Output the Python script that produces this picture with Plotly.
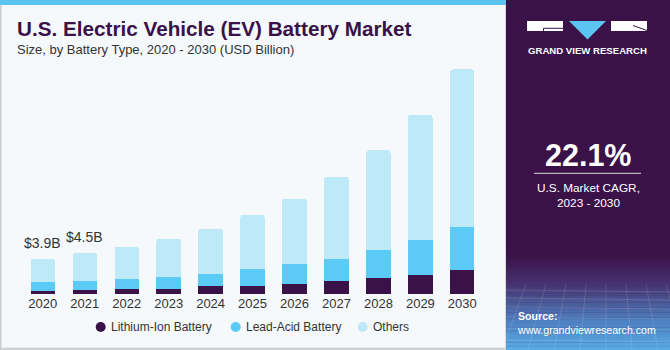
import plotly.graph_objects as go

W, H = 670, 350

# ---------------- data ----------------
years = [str(y) for y in range(2020, 2031)]
lithium_ion = [0.33, 0.44, 0.55, 0.59, 0.85, 0.92, 1.10, 1.43, 1.76, 2.13, 2.64]
lead_acid = [0.99, 1.02, 1.07, 1.28, 1.35, 1.79, 2.20, 2.46, 3.08, 3.85, 4.73]
others = [2.58, 3.04, 3.58, 4.23, 5.00, 5.99, 7.20, 9.01, 10.96, 13.72, 17.33]
series_names = ["Lithium-Ion Battery", "Lead-Acid Battery", "Others"]
label_years = ["2020", "2021"]
label_texts = ["$3.9B", "$4.5B"]

title_text = "U.S. Electric Vehicle (EV) Battery Market"
subtitle_text = "Size, by Battery Type, 2020 - 2030 (USD Billion)"
cagr_value = "22.1%"
cagr_lines = "U.S. Market CAGR,<br>2023 - 2030"

# ---------------- style ----------------
DARK = "#3A1248"
MID = "#5BCBF5"
LIGHT = "#BDE9F9"
BG = "#F5F9FC"
TXT = "#333333"
FONT = "Liberation Sans"


def px(x):
    return x / W


def py(y):
    return 1 - y / H


fig = go.Figure()
for name, vals, col in zip(series_names, [lithium_ion, lead_acid, others], [DARK, MID, LIGHT]):
    fig.add_trace(go.Bar(x=years, y=vals, name=name, marker=dict(color=col, line=dict(width=0)),
                         showlegend=False, hoverinfo="x+y+name"))

totals = [a + b + c for a, b, c in zip(lithium_ion, lead_acid, others)]

shapes = []
annotations = []

# left framed area
shapes.append(dict(type="rect", xref="paper", yref="paper", x0=px(0), x1=px(506), y0=py(350), y1=py(0),
                   fillcolor=BG, line=dict(width=0), layer="below"))
shapes.append(dict(type="line", xref="paper", yref="paper", x0=px(0.8), x1=px(0.8), y0=py(350), y1=py(4),
                   line=dict(color="#C9CDD1", width=1.6)))
shapes.append(dict(type="line", xref="paper", yref="paper", x0=px(0), x1=px(506), y0=py(348.8), y1=py(348.8),
                   line=dict(color="#C9CDD1", width=2)))
shapes.append(dict(type="line", xref="paper", yref="paper", x0=px(505.5), x1=px(505.5), y0=py(350), y1=py(5),
                   line=dict(color="#D6DADE", width=1)))
# top strip
shapes.append(dict(type="rect", xref="paper", yref="paper", x0=px(0), x1=px(506), y0=py(5), y1=py(0),
                   fillcolor="#5BC5F2", line=dict(width=0)))

# right panel
shapes.append(dict(type="rect", xref="paper", yref="paper", x0=px(506), x1=px(670), y0=py(350), y1=py(0),
                   fillcolor=DARK, line=dict(width=0), layer="below"))


def lerp(c1, c2, t):
    a = [int(c1[i:i + 2], 16) for i in (1, 3, 5)]
    b = [int(c2[i:i + 2], 16) for i in (1, 3, 5)]
    return "#" + "".join("%02x" % round(a[k] + (b[k] - a[k]) * t) for k in range(3))


# gradient at panel bottom
stops = [(255, DARK), (282, "#46306E"), (300, "#4A5592"), (320, "#4E7DBE"), (350, "#58ADE6")]
for (ya, ca), (yb, cb) in zip(stops[:-1], stops[1:]):
    n = 8
    for i in range(n):
        y0 = ya + (yb - ya) * i / n
        y1 = ya + (yb - ya) * (i + 1) / n
        shapes.append(dict(type="rect", xref="paper", yref="paper", x0=px(506), x1=px(670),
                           y0=py(y1 + 0.3), y1=py(y0), fillcolor=lerp(ca, cb, (i + 0.5) / n),
                           line=dict(width=0), layer="below"))
# faint mesh lines
for k in range(9):
    xx = 506 + k * 20
    shapes.append(dict(type="line", xref="paper", yref="paper", x0=px(xx), x1=px(xx - 30 + k * 6),
                       y0=py(284), y1=py(350), line=dict(color="rgba(255,255,255,0.12)", width=1),
                       layer="below"))
for yy in [290, 298, 307, 317, 328, 340]:
    shapes.append(dict(type="line", xref="paper", yref="paper", x0=px(506), x1=px(670),
                       y0=py(yy), y1=py(yy + 2), line=dict(color="rgba(255,255,255,0.12)", width=1),
                       layer="below"))

# logo
shapes.append(dict(type="rect", xref="paper", yref="paper", x0=px(527), x1=px(563), y0=py(31), y1=py(21),
                   fillcolor="white", line=dict(width=0)))
shapes.append(dict(type="rect", xref="paper", yref="paper", x0=px(611), x1=px(647), y0=py(31), y1=py(21),
                   fillcolor="white", line=dict(width=0)))
shapes.append(dict(type="path", xref="paper", yref="paper",
                   path="M %f %f L %f %f L %f %f Z" % (px(569), py(21), px(606), py(21), px(587.5), py(39.5)),
                   fillcolor="#5BC5F2", line=dict(width=0)))
shapes.append(dict(type="path", xref="paper", yref="paper",
                   path="M %f %f L %f %f L %f %f" % (px(563), py(28.3), px(543.5), py(28.3), px(543.5), py(31)),
                   line=dict(color=DARK, width=1)))
shapes.append(dict(type="line", xref="paper", yref="paper", x0=px(633), x1=px(647), y0=py(25.5), y1=py(30.5),
                   line=dict(color=DARK, width=1)))

# CAGR separator
shapes.append(dict(type="line", xref="paper", yref="paper", x0=px(534), x1=px(641), y0=py(173.3), y1=py(173.3),
                   line=dict(color="#B9AFC2", width=1.3)))

# legend (circles + labels)
leg_x = [100.7, 235.7, 362.7]
for name, col, cx in zip(series_names, [DARK, MID, LIGHT], leg_x):
    shapes.append(dict(type="circle", xref="paper", yref="paper", x0=px(cx - 5), x1=px(cx + 5),
                       y0=py(332), y1=py(322), fillcolor=col, line=dict(width=0)))
    annotations.append(dict(text=name, xref="paper", yref="paper", x=px(cx + 8), y=py(327),
                            xanchor="left", yanchor="middle", showarrow=False,
                            font=dict(family=FONT, size=12, color=TXT)))

# value labels (category index used as x position)
for yr, t in zip(label_years, label_texts):
    i = years.index(yr)
    annotations.append(dict(text=t, x=i, y=totals[i], xref="x", yref="y", yanchor="bottom",
                            showarrow=False, yshift=6, font=dict(family=FONT, size=14, color=TXT)))

# titles
annotations.append(dict(text="<b>%s</b>" % title_text, xref="paper", yref="paper", x=px(15), y=py(29),
                        xanchor="left", yanchor="middle", showarrow=False,
                        font=dict(family=FONT, size=20.7, color=DARK)))
annotations.append(dict(text=subtitle_text, xref="paper", yref="paper", x=px(15), y=py(49.5),
                        xanchor="left", yanchor="middle", showarrow=False,
                        font=dict(family=FONT, size=13, color=TXT)))
# panel texts
annotations.append(dict(text="<b>GRAND VIEW RESEARCH</b>", xref="paper", yref="paper", x=px(587), y=py(51),
                        xanchor="center", yanchor="middle", showarrow=False,
                        font=dict(family=FONT, size=9.6, color="white")))
annotations.append(dict(text="<b>%s</b>" % cagr_value, xref="paper", yref="paper", x=px(588), y=py(155),
                        xanchor="center", yanchor="middle", showarrow=False,
                        font=dict(family=FONT, size=30.5, color="white")))
annotations.append(dict(text=cagr_lines, xref="paper", yref="paper", x=px(588), y=py(195.5),
                        xanchor="center", yanchor="middle", showarrow=False,
                        font=dict(family=FONT, size=11.8, color="white")))
annotations.append(dict(text="<b>Source:</b><br>www.grandviewresearch.com", xref="paper", yref="paper",
                        x=px(515), y=py(323), xanchor="left", yanchor="middle", align="left",
                        showarrow=False, font=dict(family=FONT, size=10.6, color="white")))

fig.update_layout(
    width=W, height=H,
    margin=dict(l=0, r=0, t=0, b=0),
    paper_bgcolor=BG, plot_bgcolor="rgba(0,0,0,0)",
    barmode="stack", bargap=0.42, barcornerradius=3,
    showlegend=False,
    shapes=shapes, annotations=annotations,
    xaxis=dict(type="category", categoryorder="array", categoryarray=years,
               range=[-0.5, len(years) - 0.5],
               domain=[px(21.8), px(483.3)], showgrid=False, zeroline=False, showline=False,
               ticks="", tickfont=dict(family=FONT, size=13, color=TXT), fixedrange=True),
    yaxis=dict(domain=[py(294), 0.9], range=[0, 0.74 * H * 0.11], visible=False, fixedrange=True),
)

fig.write_html("out.html", config={"displayModeBar": False})
